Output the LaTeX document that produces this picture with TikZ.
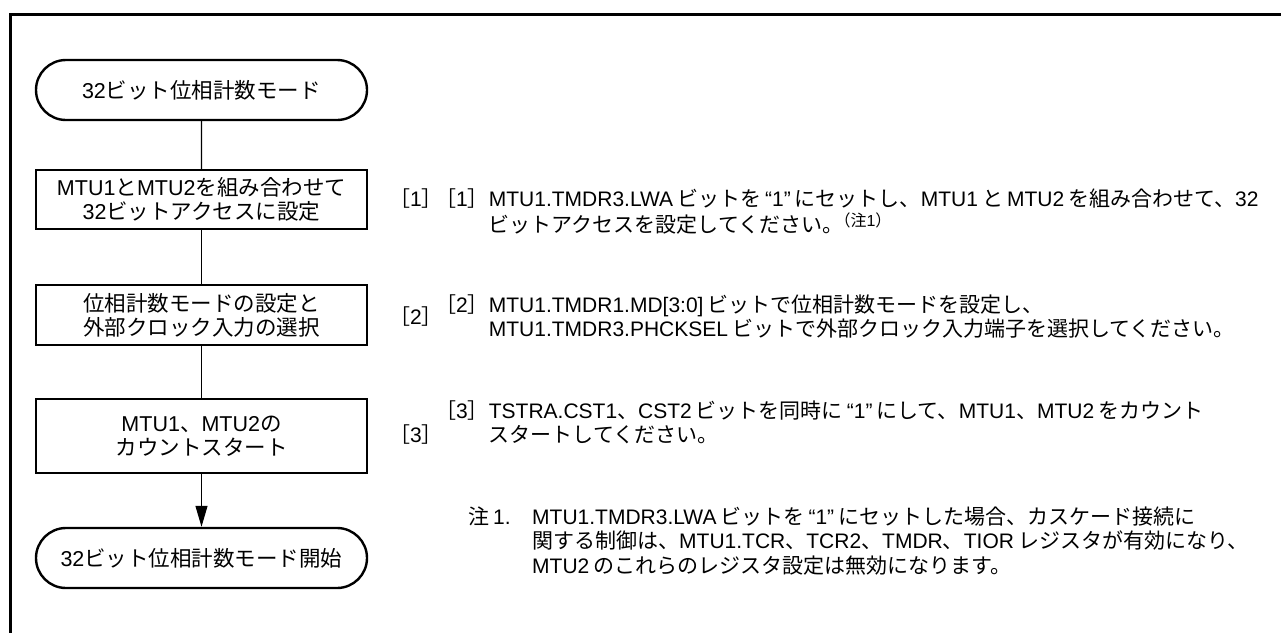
\documentclass[tikz,border=0pt]{standalone}
\usepackage{fontspec}
\setmainfont{Noto Sans CJK JP}
\newfontfamily\cjkfont{Noto Sans CJK JP}
\newfontfamily\latfont{Liberation Sans}
\usetikzlibrary{arrows.meta,shapes.misc}
\newlength\jgap
\newXeTeXintercharclass\CJKcls
\newXeTeXintercharclass\CJKpcls
\newcount\cc
\def\setclsrange#1#2#3{\cc=#1\relax\loop\ifnum\cc<#2\relax\XeTeXcharclass\cc=#3\relax\advance\cc by 1\relax\repeat}
\setclsrange{"20}{"250}{0}
\setclsrange{"2000}{"2070}{0}
\setclsrange{"3000}{"3100}{\CJKcls}
\setclsrange{"4E00}{"A000}{\CJKcls}
\setclsrange{"FF00}{"FFF0}{\CJKcls}
\XeTeXcharclass"3001=\CJKpcls
\XeTeXcharclass"3002=\CJKpcls
\XeTeXcharclass"FF08=\CJKpcls
\XeTeXcharclass"FF09=\CJKpcls
\XeTeXcharclass"FF3B=\CJKpcls
\XeTeXcharclass"FF3D=\CJKpcls
\XeTeXinterchartoks 0 \CJKcls = {\hskip\jgap\relax\cjkfont}
\XeTeXinterchartoks \CJKcls 0 = {\hskip\jgap\relax\latfont}
\XeTeXinterchartoks 4095 \CJKcls = {\cjkfont}
\XeTeXinterchartoks 4095 \CJKpcls = {\cjkfont}
\XeTeXinterchartoks 0 \CJKpcls = {\cjkfont}
\XeTeXinterchartoks \CJKpcls 0 = {\latfont}
\XeTeXinterchartoks 4095 0 = {\latfont}
\newcommand\boxfont{\fontsize{21.5}{24}\selectfont\jgap=0pt\relax}
\newcommand\notefont{\fontsize{21}{24}\selectfont\jgap=4pt\relax}
\newcommand\notemark[1]{\hspace{-9pt}\raisebox{6pt}{\fontsize{16}{16}\selectfont\jgap=0pt\relax #1}}
\tikzset{
  flowbox/.style={draw, line width=2.4pt, minimum width=331pt, minimum height=60pt,
    align=center, font=\boxfont, inner sep=0pt},
  termbox/.style={flowbox, rounded rectangle},
  conn/.style={line width=1.2pt},
  txt/.style={font=\notefont, inner sep=0pt, anchor=base west},
  frame/.style={line width=3pt}
}
\begin{document}
\begin{tikzpicture}[x=1pt,y=-1pt]
\XeTeXinterchartokenstate=1
\useasboundingbox (0,0) rectangle (1281,632);
% frame
\coordinate (fa) at (1290,14);
\coordinate (fb) at (10,640);
\draw[frame] (fa) -| (fb);
% flow
\node[termbox] (s) at (201.5,90) {32ビット位相計数モード};
\node[flowbox, minimum height=59pt] (b1) at (201.5,199.5) {MTU1とMTU2を組み合わせて\\32ビットアクセスに設定};
\node[flowbox] (b2) at (201.5,315) {位相計数モードの設定と\\外部クロック入力の選択};
\node[flowbox, minimum height=74pt] (b3) at (201.5,436) {MTU1、MTU2の\\カウントスタート};
\node[termbox] (e) at (201.5,558) {32ビット位相計数モード開始};
\draw[conn] (s) -- (b1);
\draw[conn] (b1) -- (b2);
\draw[conn] (b2) -- (b3);
\draw[conn, -{Triangle[length=21pt,width=12pt]}] (b3) -- (e);
% step labels
\node[txt] (l1) at (389,206) {［1］};
\node[txt] (t1) at (435,206) {\begin{tabular}[t]{@{}l@{}l@{}}［1］&MTU1.TMDR3.LWAビットを“1”にセットし、MTU1とMTU2を組み合わせて、32\\
 &ビットアクセスを設定してください。\notemark{（注1）}\end{tabular}};
\node[txt] (l2) at (389,324) {［2］};
\node[txt] (t2) at (435,312) {\begin{tabular}[t]{@{}l@{}l@{}}［2］&MTU1.TMDR1.MD[3:0]ビットで位相計数モードを設定し、\\
 &MTU1.TMDR3.PHCKSELビットで外部クロック入力端子を選択してください。\end{tabular}};
\node[txt] (l3) at (389,442) {［3］};
\node[txt] (t3) at (435,418) {\begin{tabular}[t]{@{}l@{}l@{}}［3］&TSTRA.CST1、CST2ビットを同時に“1”にして、MTU1、MTU2をカウント\\
 &スタートしてください。\end{tabular}};
\node[txt] (n1) at (468,524) {\begin{tabular}[t]{@{}l@{}l@{}}\makebox[64pt][l]{注1.}&MTU1.TMDR3.LWAビットを“1”にセットした場合、カスケード接続に\\
 &関する制御は、MTU1.TCR、TCR2、TMDR、TIORレジスタが有効になり、\\
 &MTU2のこれらのレジスタ設定は無効になります。\end{tabular}};
\end{tikzpicture}
\end{document}
